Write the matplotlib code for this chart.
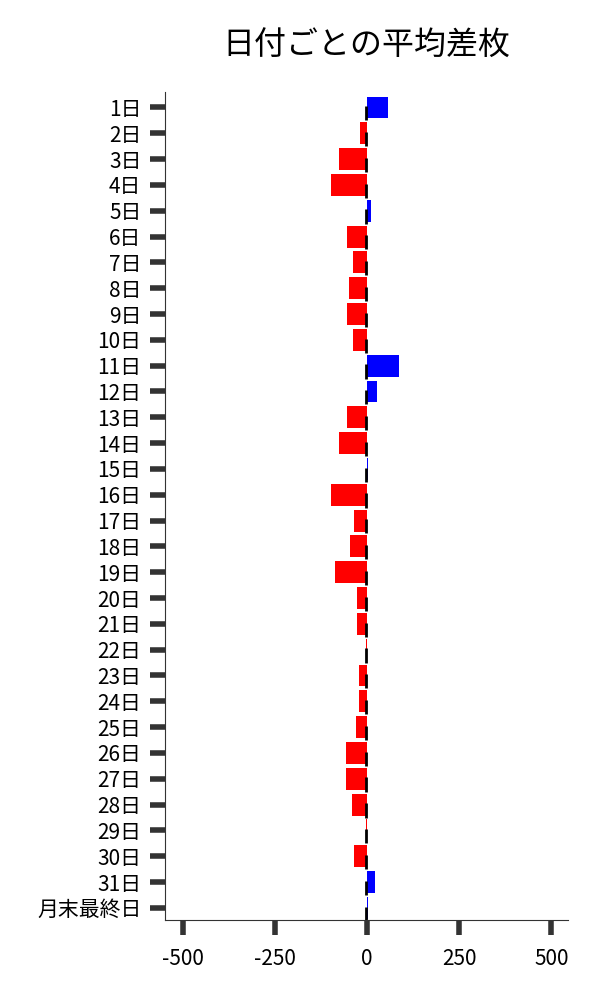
import matplotlib
matplotlib.use('Agg')
import matplotlib.pyplot as plt

plt.rcParams['font.family'] = ['Noto Sans CJK JP', 'DejaVu Sans']
plt.rcParams['axes.unicode_minus'] = False

days = [f'{i}日' for i in range(1, 32)] + ['月末最終日']
diff = [57, -18, -75, -97, 11, -54, -38, -48, -53, -37,
        87, 27, -53, -75, 4, -97, -35, -45, -86, -26,
        -26, -3, -21, -21, -29, -56, -56, -40, -3, -35,
        22, 3]
xticks = [-500, -250, 0, 250, 500]


def main():
    fig = plt.figure(figsize=(6, 10), dpi=100)
    ax = fig.add_axes([0.275, 0.08, 0.672, 0.828])

    pos = list(range(len(days)))
    colors = ['blue' if v > 0 else 'red' for v in diff]
    ax.barh(pos, diff, height=0.85, color=colors, zorder=2)
    # little black marks at zero
    ax.vlines([-2] * len(pos), [p - 0.05 for p in pos], [p + 0.5 for p in pos],
              color='black', linewidth=2, zorder=3)

    ax.set_yticks(pos)
    ax.set_yticklabels(days, fontsize=15)
    ax.set_ylim(len(days) - 0.53, -0.6)
    ax.set_xlim(-548, 546)
    ax.set_xticks(xticks)
    ax.set_xticklabels([str(t) for t in xticks], fontsize=15)

    ax.tick_params(axis='both', length=11, width=4, color='#333333', pad=6)
    ax.tick_params(axis='x', pad=9)
    for s in ['top', 'right']:
        ax.spines[s].set_visible(False)
    for s in ['left', 'bottom']:
        ax.spines[s].set_color('#333333')

    ax.set_title('日付ごとの平均差枚', fontsize=23, pad=27)

    fig.savefig('out.png', dpi=100)


if __name__ == '__main__':
    main()
